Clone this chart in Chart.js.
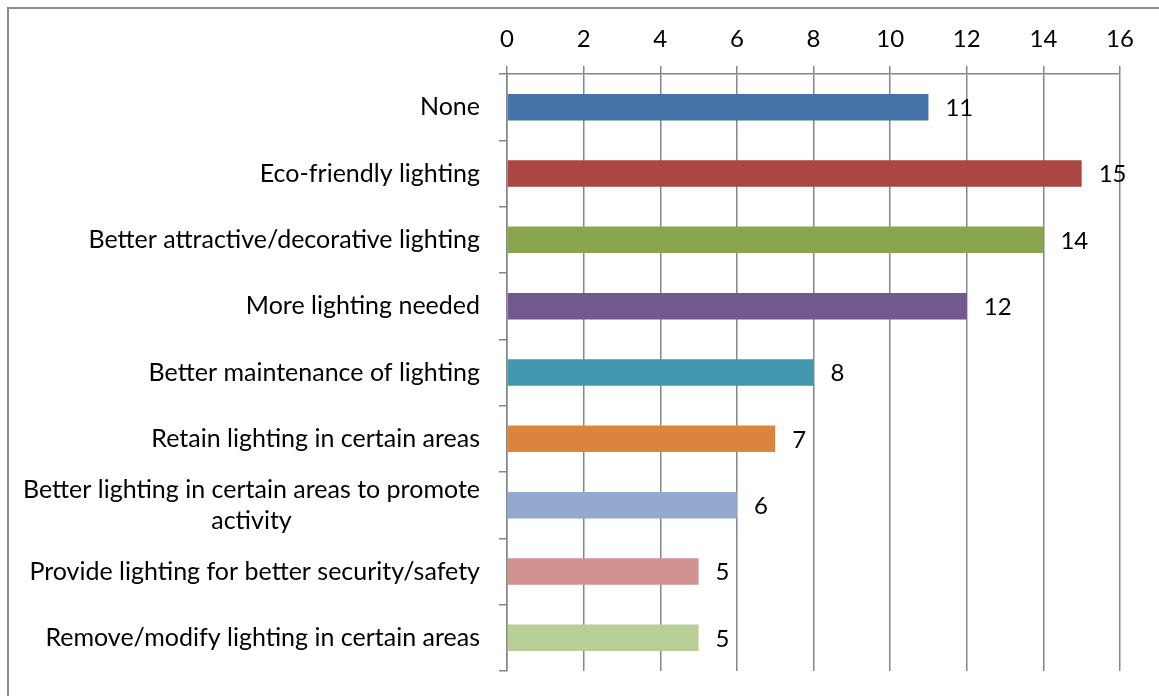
<!DOCTYPE html>
<html>
<head>
<meta charset="utf-8">
<script src="https://cdn.jsdelivr.net/npm/chart.js@4/dist/chart.umd.min.js"></script>
<style>
  html, body { margin: 0; padding: 0; background: #fff; overflow: hidden; }
  #wrap { position: relative; width: 1159px; height: 696px; }
  #frame {
    position: absolute; left: 7px; top: 7px; width: 1400px; height: 900px;
    border-left: 2px solid #8a8a8a; border-top: 2px solid #8a8a8a;
  }
  canvas { position: absolute; left: 0; top: 0; }
</style>
</head>
<body>
<div id="wrap">
  <div id="frame"></div>
  <canvas id="chart" width="1159" height="696"></canvas>
</div>
<script>
// categories, top to bottom as in the picture
const categories = [
  'None',
  'Eco-friendly lighting',
  'Better attractive/decorative lighting',
  'More lighting needed',
  'Better maintenance of lighting',
  'Retain lighting in certain areas',
  ['Better lighting in certain areas to promote', 'activity'],
  'Provide lighting for better security/safety',
  'Remove/modify lighting in certain areas'
];
const counts = [11, 15, 14, 12, 8, 7, 6, 5, 5];
const barColors = [
  '#4572a7', '#aa4643', '#89a54e', '#71588f', '#4198af',
  '#db843d', '#93a9cf', '#d19392', '#b9cd96'
];
const xTicks = [0, 2, 4, 6, 8, 10, 12, 14, 16];

const FONT = 'Lato, "Open Sans", sans-serif';
const gridGray = '#868686';

// value labels to the right of each bar
const valueLabels = {
  id: 'valueLabels',
  afterDatasetsDraw(chart) {
    const { ctx } = chart;
    const meta = chart.getDatasetMeta(0);
    ctx.save();
    ctx.font = `24px ${FONT}`;
    ctx.fillStyle = '#000';
    ctx.textAlign = 'left';
    ctx.textBaseline = 'middle';
    meta.data.forEach((bar, i) => {
      ctx.fillText(String(counts[i]), bar.x + 17, bar.y + 1);
    });
    ctx.restore();
  }
};

// category labels: block right-aligned to the axis, lines centred inside the block
const categoryLabels = {
  id: 'categoryLabels',
  afterDraw(chart) {
    const { ctx } = chart;
    const y = chart.scales.y;
    const right = y.right - 27;
    const lineH = 31;
    ctx.save();
    ctx.font = `25px ${FONT}`;
    ctx.fillStyle = '#000';
    ctx.textAlign = 'center';
    ctx.textBaseline = 'middle';
    categories.forEach((cat, i) => {
      const lines = Array.isArray(cat) ? cat : [cat];
      const w = Math.max(...lines.map(l => ctx.measureText(l).width));
      const cx = right - w / 2;
      const cy = y.getPixelForValue(i);
      lines.forEach((l, j) => {
        ctx.fillText(l, cx, cy + (j - (lines.length - 1) / 2) * lineH);
      });
    });
    ctx.restore();
  }
};

new Chart(document.getElementById('chart'), {
  type: 'bar',
  data: {
    labels: categories,
    datasets: [{
      data: counts,
      backgroundColor: barColors,
      borderWidth: 0,
      categoryPercentage: 1,
      barPercentage: 0.4
    }]
  },
  options: {
    indexAxis: 'y',
    responsive: false,
    animation: false,
    layout: { padding: { top: 0, left: 0, right: 39, bottom: 25 } },
    plugins: {
      legend: { display: false },
      tooltip: { enabled: false }
    },
    scales: {
      x: {
        position: 'top',
        min: 0,
        max: 16,
        afterBuildTicks: (axis) => { axis.ticks = xTicks.map(v => ({ value: v })); },
        afterFit: (axis) => { axis.height = 74; },
        grid: { color: gridGray, lineWidth: 1.5, tickLength: 8 },
        border: { color: gridGray, width: 1.5 },
        ticks: {
          color: '#000',
          font: { family: FONT, size: 24 },
          padding: 12,
          maxRotation: 0
        }
      },
      y: {
        afterFit: (axis) => { axis.width = 507; },
        grid: { drawOnChartArea: false, color: gridGray, lineWidth: 1.5, tickLength: 8 },
        border: { color: gridGray, width: 1.5 },
        ticks: { display: false }
      }
    }
  },
  plugins: [valueLabels, categoryLabels]
});
</script>
</body>
</html>
